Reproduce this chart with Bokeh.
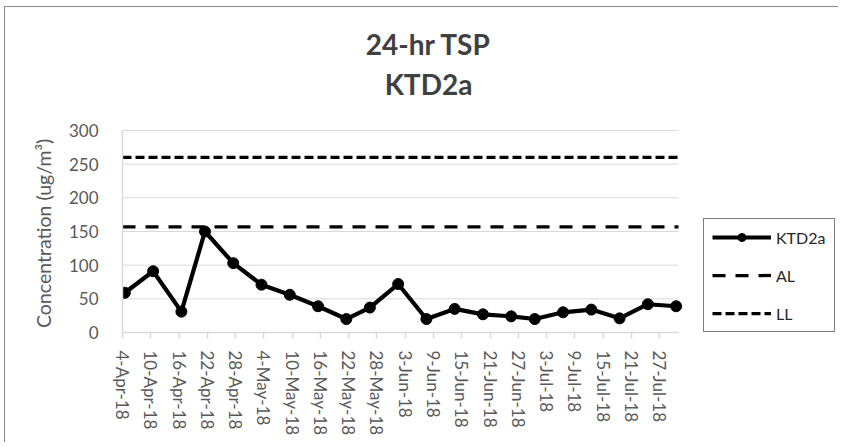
import math

import pandas as pd
from bokeh.plotting import figure
from bokeh.models import Range1d, FixedTicker, Legend, LegendItem, Label
from bokeh.embed import file_html
from bokeh.resources import INLINE

# ---------------- data ----------------
sample_dates = ["2018-04-04", "2018-04-10", "2018-04-16", "2018-04-21", "2018-04-27",
                "2018-05-03", "2018-05-09", "2018-05-15", "2018-05-21", "2018-05-26",
                "2018-06-01", "2018-06-07", "2018-06-13", "2018-06-19", "2018-06-25",
                "2018-06-30", "2018-07-06", "2018-07-12", "2018-07-18", "2018-07-24",
                "2018-07-30"]
ktd2a = [59, 91, 31, 150, 103, 71, 56, 39, 20, 37, 72, 20, 35, 27, 24, 20, 30, 34, 21, 42, 39]
action_level = 157
limit_level = 260

tick_dates = ["2018-04-04", "2018-04-10", "2018-04-16", "2018-04-22", "2018-04-28",
              "2018-05-04", "2018-05-10", "2018-05-16", "2018-05-22", "2018-05-28",
              "2018-06-03", "2018-06-09", "2018-06-15", "2018-06-21", "2018-06-27",
              "2018-07-03", "2018-07-09", "2018-07-15", "2018-07-21", "2018-07-27"]
tick_labels = ["4-Apr-18", "10-Apr-18", "16-Apr-18", "22-Apr-18", "28-Apr-18",
               "4-May-18", "10-May-18", "16-May-18", "22-May-18", "28-May-18",
               "3-Jun-18", "9-Jun-18", "15-Jun-18", "21-Jun-18", "27-Jun-18",
               "3-Jul-18", "9-Jul-18", "15-Jul-18", "21-Jul-18", "27-Jul-18"]
y_ticks = [0, 50, 100, 150, 200, 250, 300]
axis_start = "2018-04-04"
axis_end = "2018-07-31"
y_min, y_max = 0, 300

title_lines = ["24-hr TSP", "KTD2a"]
y_label = "Concentration (ug/m\u00b3)"

# ---------------- helpers ----------------
def ms(d):
    return pd.Timestamp(d).value / 1e6

# Excel date axis: each point sits in the middle of its day
x_pts = [pd.Timestamp(d) + pd.Timedelta(hours=12) for d in sample_dates]
x_start = pd.Timestamp(axis_start)
x_end = pd.Timestamp(axis_end)

FONT = "Lato"
GRID = "#d9d9d9"
TXT = "#595959"

# The drawing frame also covers the legend / title area (so nothing is clipped);
# axes, grid and series are bounded to the real chart area.
W, H = 834, 436
LEFT, BOTTOM = 117, 111
plot_w = 556          # pixel width of the real chart area
plot_h = 202          # pixel height of the real chart area
days = (x_end - x_start) / pd.Timedelta(days=1)
view_end = x_start + pd.Timedelta(days=days * (W - LEFT) / plot_w)
view_top = y_max * (H - BOTTOM) / plot_h

p = figure(width=W, height=H, output_backend="svg", toolbar_location=None,
           x_axis_type="datetime",
           x_range=Range1d(x_start, view_end), y_range=Range1d(y_min, view_top),
           min_border_left=LEFT, min_border_right=0, min_border_top=0,
           min_border_bottom=BOTTOM)
p.margin = (6, 0, 0, 4)
p.outline_line_color = None
p.background_fill_color = "white"
p.border_fill_color = "white"
p.styles = {"border-left": "1px solid #8a8a8a", "border-top": "1px solid #8a8a8a"}

# axes
xa = p.xaxis[0]
xa.bounds = (ms(axis_start), ms(axis_end))
xa.ticker = FixedTicker(ticks=[ms(d) for d in tick_dates])
xa.major_label_overrides = {ms(d): lab for d, lab in zip(tick_dates, tick_labels)}
xa.major_label_orientation = -math.pi / 2
xa.major_label_text_font = FONT
xa.major_label_text_font_size = "17px"
xa.major_label_text_color = TXT
xa.major_label_standoff = 12
xa.axis_line_color = GRID
xa.axis_line_width = 1.5
xa.major_tick_line_color = GRID
xa.major_tick_line_width = 1.5
xa.major_tick_out = 6
xa.major_tick_in = 0
xa.minor_tick_line_color = None

ya = p.yaxis[0]
ya.bounds = (y_min, y_max)
ya.ticker = FixedTicker(ticks=y_ticks)
ya.major_label_text_font = FONT
ya.major_label_text_font_size = "17px"
ya.major_label_text_color = TXT
ya.major_label_standoff = 18
ya.major_tick_line_color = None
ya.minor_tick_line_color = None
ya.axis_line_color = GRID
ya.axis_line_width = 1.5
# the axis label is centred on the whole frame; em-spaces at its (upper) end
# move the visible words down beside the 0-300 scale
ya.axis_label = y_label + "\u2003" * 8 + "\u2002"
ya.axis_label_text_font = FONT
ya.axis_label_text_font_size = "19.5px"
ya.axis_label_text_font_style = "normal"
ya.axis_label_text_color = TXT
ya.axis_label_standoff = 11

p.xgrid.grid_line_color = None
p.ygrid.grid_line_color = None

# horizontal gridlines over the chart area only
grid_y = y_ticks[1:]
p.segment(x0=[x_start] * len(grid_y), x1=[x_end] * len(grid_y), y0=grid_y, y1=grid_y,
          line_color=GRID, line_width=1)

# series
r_ll = p.line([x_start, x_end], [limit_level, limit_level], line_color="black",
              line_width=3.25, line_dash="9 4")
r_al = p.line([x_start, x_end], [action_level, action_level], line_color="black",
              line_width=3.25, line_dash="13 10")
r_line = p.line(x_pts, ktd2a, line_color="black", line_width=4.2)
r_pts = p.scatter(x_pts, ktd2a, size=11, fill_color="black", line_color="black")

legend = Legend(items=[LegendItem(label="KTD2a", renderers=[r_line, r_pts]),
                       LegendItem(label="AL", renderers=[r_al]),
                       LegendItem(label="LL", renderers=[r_ll])],
                location=(581, 0))
legend.glyph_width = 59
legend.glyph_height = 20
legend.label_standoff = 5
legend.label_width = 50
legend.spacing = 18
legend.padding = 8
legend.margin = 0
legend.label_text_font = FONT
legend.label_text_font_size = "16px"
legend.label_text_color = "#262626"
legend.border_line_color = "black"
legend.border_line_width = 1.5
legend.background_fill_color = "white"
legend.background_fill_alpha = 1
p.add_layout(legend, "center")

# title (two centred lines)
for txt, yy in zip(title_lines, [289, 249]):
    p.add_layout(Label(x=306, y=yy, x_units="screen", y_units="screen", text=txt,
                       text_font=FONT, text_font_size="28px",
                       text_font_style="bold", text_color="#404040",
                       text_align="center", text_baseline="alphabetic"))

open("out.html", "w").write(file_html(p, INLINE))
